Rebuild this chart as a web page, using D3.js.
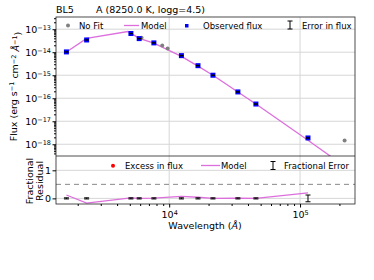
<!DOCTYPE html>
<html>
<head>
<meta charset="utf-8">
<script src="https://cdn.jsdelivr.net/npm/d3@7"></script>
<style>
  body { margin: 0; background: #fff; }
  text { font-family: "DejaVu Sans", sans-serif; }
</style>
</head>
<body>
<div id="plot"></div>
<script>
// observed photometry (Å, erg/s/cm2/Å)
const obsWave = [1640, 2340, 5100, 5900, 7640, 12400, 16600, 21600, 33500, 46000, 115000];
const obsFlux = [1.03e-14, 3.4e-14, 6.5e-14, 3.9e-14, 2.54e-14, 7.1e-15, 2.6e-15, 1.0e-15, 1.88e-16, 5.6e-17, 1.88e-18];
const fracErr = [0.02, 0.02, 0.02, 0.02, 0.02, 0.02, 0.02, 0.02, 0.02, 0.02, 0.12];
const residual = [0.12, -0.17, 0.02, 0.0, 0.01, 0.07, 0.04, 0.0, 0.01, 0.0, 0.2];

// points not used in fit
const noFitWave = [6150, 8850, 9730, 219000];
const noFitFlux = [4.3e-14, 1.98e-14, 1.46e-14, 1.44e-18];

// model
const modelWave = [1640, 2340, 4840, 5900, 7640, 12400, 16600, 21600, 33500, 46000, 115000, 219000];
const modelFlux = [1.03e-14, 4.0e-14, 7.9e-14, 4.0e-14, 2.5e-14, 6.6e-15, 2.5e-15, 1.0e-15, 1.86e-16, 5.6e-17, 1.5e-18, 1.1e-19];

const yTicks = [-13, -14, -15, -16, -17, -18];
const xTicks = [4, 5];

const W = 374, H = 280;
const L = 56, R = 355, T = 17, MID = 156, B = 204;
const modelColor = "#dd6fdd";
const legendSize = 8.5;

const svg = d3.select("#plot").append("svg")
  .attr("width", W).attr("height", H);
svg.append("rect").attr("width", W).attr("height", H).attr("fill", "#fff");

const x = d3.scaleLog().domain([1365, 263000]).range([L, R]);
const y = d3.scaleLog().domain([Math.pow(10, -18.51), Math.pow(10, -12.47)]).range([MID, T]);
const yr = d3.scaleLinear().domain([-0.2, 1.51]).range([B, MID]);

svg.append("defs").append("clipPath").attr("id", "clipTop")
  .append("rect").attr("x", L).attr("y", T).attr("width", R - L).attr("height", MID - T);
svg.select("defs").append("clipPath").attr("id", "clipBot")
  .append("rect").attr("x", L).attr("y", MID).attr("width", R - L).attr("height", B - MID);

// grid
const grid = svg.append("g").attr("stroke", "#d6d6d6").attr("stroke-width", 1);
yTicks.forEach(e => {
  grid.append("line").attr("x1", L).attr("x2", R).attr("y1", y(Math.pow(10, e))).attr("y2", y(Math.pow(10, e)));
});
xTicks.forEach(e => {
  grid.append("line").attr("x1", x(Math.pow(10, e))).attr("x2", x(Math.pow(10, e))).attr("y1", T).attr("y2", B);
});
[0, 1].forEach(v => {
  grid.append("line").attr("x1", L).attr("x2", R).attr("y1", yr(v)).attr("y2", yr(v));
});
svg.append("line").attr("x1", L).attr("x2", R).attr("y1", yr(0.5)).attr("y2", yr(0.5))
  .attr("stroke", "#888").attr("stroke-dasharray", "5,4");

// top panel
const topG = svg.append("g").attr("clip-path", "url(#clipTop)");
topG.append("path")
  .datum(modelWave.map((w, i) => [w, modelFlux[i]]))
  .attr("fill", "none").attr("stroke", modelColor).attr("stroke-width", 1.3)
  .attr("d", d3.line().x(d => x(d[0])).y(d => y(d[1])));
topG.selectAll(".nofit").data(noFitWave).enter().append("circle")
  .attr("cx", d => x(d)).attr("cy", (d, i) => y(noFitFlux[i])).attr("r", 2)
  .attr("fill", "#808080");
topG.selectAll(".obs").data(obsWave).enter().append("rect")
  .attr("x", d => x(d) - 2.5).attr("y", (d, i) => y(obsFlux[i]) - 2.5)
  .attr("width", 5).attr("height", 5).attr("fill", "#0000ff");
topG.selectAll(".cap").data(obsWave).enter().append("line")
  .attr("x1", d => x(d) - 2).attr("x2", d => x(d) + 2)
  .attr("y1", (d, i) => y(obsFlux[i])).attr("y2", (d, i) => y(obsFlux[i]))
  .attr("stroke", "#000").attr("stroke-width", 1.5);

// bottom panel
const botG = svg.append("g").attr("clip-path", "url(#clipBot)");
botG.append("path")
  .datum(obsWave.map((w, i) => [w, residual[i]]))
  .attr("fill", "none").attr("stroke", modelColor).attr("stroke-width", 1.3)
  .attr("d", d3.line().x(d => x(d[0])).y(d => yr(d[1])));
obsWave.forEach((w, i) => {
  const g = botG.append("g").attr("stroke", "#000").attr("stroke-width", 1);
  g.append("line").attr("x1", x(w)).attr("x2", x(w)).attr("y1", yr(-fracErr[i])).attr("y2", yr(fracErr[i]));
  g.append("line").attr("x1", x(w) - 2.5).attr("x2", x(w) + 2.5).attr("y1", yr(-fracErr[i])).attr("y2", yr(-fracErr[i]));
  g.append("line").attr("x1", x(w) - 2.5).attr("x2", x(w) + 2.5).attr("y1", yr(fracErr[i])).attr("y2", yr(fracErr[i]));
});

// frames
const frame = svg.append("g").attr("fill", "none").attr("stroke", "#222").attr("stroke-width", 0.8);
frame.append("rect").attr("x", L).attr("y", T).attr("width", R - L).attr("height", B - T);
frame.append("line").attr("x1", L).attr("x2", R).attr("y1", MID).attr("y2", MID);

// axes
const minorY = [];
for (let e = -19; e <= -13; e++) for (let k = 2; k <= 9; k++) minorY.push(k * Math.pow(10, e));
svg.append("g").attr("transform", `translate(${L},0)`)
  .call(d3.axisLeft(y).tickValues(minorY.filter(v => v >= y.domain()[0] && v <= y.domain()[1])).tickSize(2).tickFormat(""))
  .call(g => g.select(".domain").remove());
const yAxis = svg.append("g").attr("transform", `translate(${L},0)`)
  .call(d3.axisLeft(y).tickValues(yTicks.map(e => Math.pow(10, e))).tickSize(3.5).tickFormat(""))
  .call(g => g.select(".domain").remove());
yAxis.selectAll(".tick").each(function(d) {
  const t = d3.select(this).append("text").attr("x", -5).attr("dy", "0.32em")
    .attr("text-anchor", "end").attr("fill", "#000").attr("font-size", 9.5);
  t.append("tspan").text("10");
  t.append("tspan").attr("dy", "-0.45em").attr("font-size", 6.5).text("\u2212" + Math.round(-Math.log10(d)));
});

svg.append("g").attr("transform", `translate(${L},0)`)
  .call(d3.axisLeft(yr).tickValues([0, 1]).tickSize(3.5).tickFormat(d3.format("d")))
  .call(g => g.select(".domain").remove())
  .call(g => g.selectAll("text").attr("font-size", 9.5).attr("fill", "#000").attr("x", -5));

const minorX = [];
for (let e = 3; e <= 5; e++) for (let k = 2; k <= 9; k++) minorX.push(k * Math.pow(10, e));
svg.append("g").attr("transform", `translate(0,${B})`)
  .call(d3.axisBottom(x).tickValues(minorX.filter(v => v >= x.domain()[0] && v <= x.domain()[1])).tickSize(2).tickFormat(""))
  .call(g => g.select(".domain").remove());
const xAxis = svg.append("g").attr("transform", `translate(0,${B})`)
  .call(d3.axisBottom(x).tickValues(xTicks.map(e => Math.pow(10, e))).tickSize(3.5).tickFormat(""))
  .call(g => g.select(".domain").remove());
xAxis.selectAll(".tick").each(function(d) {
  const t = d3.select(this).append("text").attr("y", 14)
    .attr("text-anchor", "middle").attr("fill", "#000").attr("font-size", 9.5);
  t.append("tspan").text("10");
  t.append("tspan").attr("dy", "-0.45em").attr("font-size", 6.5).text(Math.round(Math.log10(d)));
});

// labels
const xl = svg.append("text").attr("x", 205).attr("y", 229).attr("text-anchor", "middle")
  .attr("font-size", 9.5);
xl.append("tspan").text("Wavelength (");
xl.append("tspan").attr("font-style", "italic").text("\u00c5");
xl.append("tspan").text(")");

const yl = svg.append("text").attr("transform", `translate(17,${(T + MID) / 2}) rotate(-90)`)
  .attr("text-anchor", "middle").attr("font-size", 9.5);
yl.append("tspan").text("Flux (erg s");
yl.append("tspan").attr("dy", "-0.4em").attr("font-size", 6.5).text("\u22121");
yl.append("tspan").attr("dy", "0.4em").text(" cm");
yl.append("tspan").attr("dy", "-0.4em").attr("font-size", 6.5).text("\u22122");
yl.append("tspan").attr("dy", "0.4em").text(" ");
yl.append("tspan").attr("font-style", "italic").text("\u00c5");
yl.append("tspan").attr("dy", "-0.4em").attr("font-size", 6.5).text("\u22121");
yl.append("tspan").attr("dy", "0.4em").text(")");

svg.append("text").attr("transform", `translate(33,181) rotate(-90)`)
  .attr("text-anchor", "middle").attr("font-size", 9.5).text("Fractional");
svg.append("text").attr("transform", `translate(43,181) rotate(-90)`)
  .attr("text-anchor", "middle").attr("font-size", 9.5).text("Residual");

svg.append("text").attr("x", L).attr("y", 13).attr("font-size", 9.5).text("BL5");
svg.append("text").attr("x", 96).attr("y", 13).attr("font-size", 9.5).text("A (8250.0 K, logg=4.5)");

// legends
function errGlyph(g, cx, cy) {
  g.append("line").attr("x1", cx).attr("x2", cx).attr("y1", cy - 4).attr("y2", cy + 4).attr("stroke", "#000");
  g.append("line").attr("x1", cx - 2.5).attr("x2", cx + 2.5).attr("y1", cy - 4).attr("y2", cy - 4).attr("stroke", "#000");
  g.append("line").attr("x1", cx - 2.5).attr("x2", cx + 2.5).attr("y1", cy + 4).attr("y2", cy + 4).attr("stroke", "#000");
}
const lg = svg.append("g").attr("font-size", legendSize);
lg.append("circle").attr("cx", 68).attr("cy", 25.5).attr("r", 2).attr("fill", "#808080");
lg.append("text").attr("x", 79).attr("y", 28.5).text("No Fit");
lg.append("line").attr("x1", 124).attr("x2", 139).attr("y1", 25.5).attr("y2", 25.5).attr("stroke", modelColor).attr("stroke-width", 1.3);
lg.append("text").attr("x", 141).attr("y", 28.5).text("Model");
lg.append("rect").attr("x", 185).attr("y", 24).attr("width", 3.5).attr("height", 3.5).attr("fill", "#0000ff");
lg.append("text").attr("x", 203).attr("y", 28.5).text("Observed flux");
errGlyph(lg, 290, 25);
lg.append("text").attr("x", 302).attr("y", 28.5).text("Error in flux");

const lg2 = svg.append("g").attr("font-size", legendSize);
lg2.append("circle").attr("cx", 113).attr("cy", 165.7).attr("r", 2).attr("fill", "#ff0000");
lg2.append("text").attr("x", 125).attr("y", 168.7).text("Excess in flux");
lg2.append("line").attr("x1", 201).attr("x2", 220).attr("y1", 165.5).attr("y2", 165.5).attr("stroke", modelColor).attr("stroke-width", 1.3);
lg2.append("text").attr("x", 221).attr("y", 168.7).text("Model");
errGlyph(lg2, 273, 165.5);
lg2.append("text").attr("x", 284).attr("y", 168.7).text("Fractional Error");
</script>
</body>
</html>
